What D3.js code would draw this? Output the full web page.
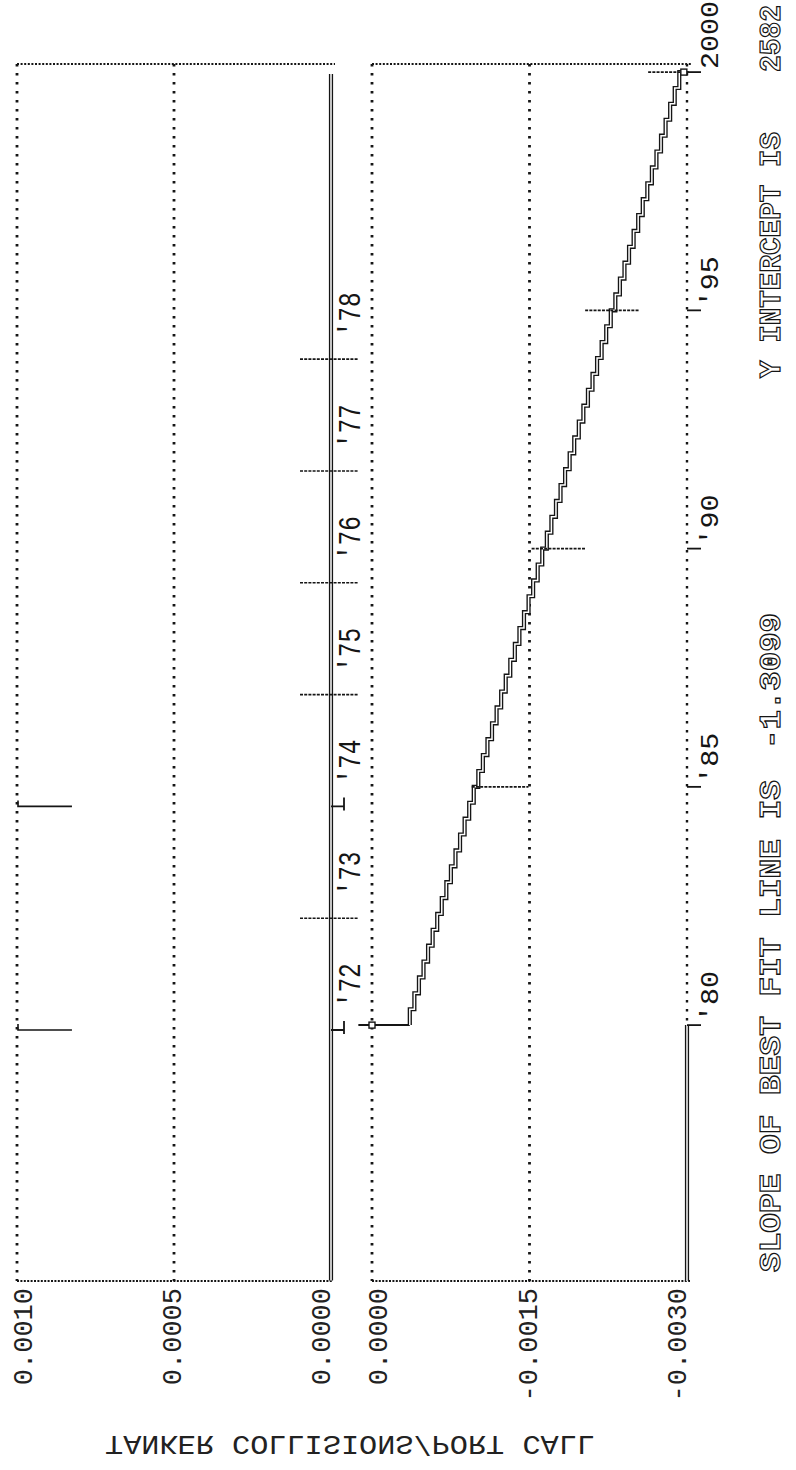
<!DOCTYPE html>
<html><head><meta charset="utf-8">
<script src="https://cdn.jsdelivr.net/npm/d3@7"></script>
<style>html,body{margin:0;padding:0;background:#fff;} svg{display:block;}</style>
</head><body>
<svg id="c" width="796" height="1470"></svg>
<script>
// ---------- data ----------
const topValueTicks = [0.0010, 0.0005, 0.0000];
const topValueLabels = ["0.0010", "0.0005", "0.0000"];
const bottomValueTicks = [0.0000, -0.0015, -0.0030];
const bottomValueLabels = ["0.0000", "-0.0015", "-0.0030"];
const topYears = [1972, 1973, 1974, 1975, 1976, 1977, 1978];
const topYearLabels = ["'72", "'73", "'74", "'75", "'76", "'77", "'78"];
const topFullTickYears = [1973, 1975, 1976, 1977, 1978];
const topMarkedYears = [1972, 1974];
const topSpikeYears = [1972, 1974];
const topSpikeLow = [0.000825, 0.000825];
const topSpikeHigh = [0.0010, 0.0010];
const topBaselineYears = [1969.76, 1980.55];
const topBaselineValues = [0, 0];
const bottomYears = [1980, 1985, 1990, 1995, 2000];
const bottomYearLabels = ["'80", "'85", "'90", "'95", "2000"];
const clipYears = [1974.63, 1980];
const clipValues = [-0.0030, -0.0030];
const fitLeadYears = [1980, 1980];
const fitLeadValues = [0.00013, -0.00036];
const fitYears = [1980, 2000];
const fitValues = [-0.00036, -0.00297];
const markYears = [1985, 1990, 1995, 2000];
const markFrom = [-0.00095, -0.00152, -0.00203, -0.00263];
const markTo = [-0.00149, -0.00203, -0.00255, -0.00303];
const slopeText = ["SLOPE OF BEST FIT LINE IS", "-1.3099"];
const interceptText = ["Y INTERCEPT IS", "2582"];
const axisTitle = "TANKER COLLISIONS/PORT CALL";

// ---------- layout ----------
const plotTop = 64, plotBottom = 1281;
const xT = d3.scaleLinear().domain([0.0010, 0]).range([17, 331]);
const xB = d3.scaleLinear().domain([0, -0.0030]).range([372, 687]);
const yT = d3.scaleLinear().domain([1969.755, 1980.64]).range([plotBottom, plotTop]);
const yB = d3.scaleLinear().domain([1974.63, 2000.17]).range([plotBottom, plotTop]);

const svg = d3.select("#c");
const ink = "#151515";
const font = "'Liberation Mono', 'DejaVu Sans Mono', monospace";

function dotted(g, x1, y1, x2, y2, w, dash) {
  g.append("line").attr("x1", x1).attr("y1", y1).attr("x2", x2).attr("y2", y2)
    .attr("stroke", ink).attr("stroke-width", w).attr("stroke-dasharray", dash);
}
function doubleLine(g, d) {
  g.append("path").attr("d", d).attr("fill", "none").attr("stroke", ink).attr("stroke-width", 4.2);
  g.append("path").attr("d", d).attr("fill", "none").attr("stroke", "#fff").attr("stroke-width", 1.5);
}
const line = d3.line();

// ---------- top panel ----------
const gT = svg.append("g");
topValueTicks.forEach(v => {
  if (v !== 0) dotted(gT, xT(v), plotTop, xT(v), plotBottom, 2.8, "2.6,6.4");
});
dotted(gT, xT(0.0010), plotTop, xT(0) + 4, plotTop, 2, "2,1.6");
dotted(gT, xT(0.0010), plotBottom, xT(0) + 1, plotBottom, 2, "2,1.4");
doubleLine(gT, line(topBaselineYears.map((yr, i) => [xT(topBaselineValues[i]), yT(yr)])));
topFullTickYears.forEach(yr => {
  dotted(gT, xT(0) - 31, yT(yr), xT(0) + 27, yT(yr), 1.6, "3,1.2");
});
topMarkedYears.forEach(yr => {
  gT.append("path")
    .attr("d", `M${xT(0)},${yT(yr)}H${xT(0) + 13}M${xT(0) + 13},${yT(yr) - 9}V${yT(yr) + 4}`)
    .attr("fill", "none").attr("stroke", ink).attr("stroke-width", 1.8);
});
topSpikeYears.forEach((yr, i) => {
  gT.append("path")
    .attr("d", `M${xT(topSpikeHigh[i]) + 1},${yT(yr) - 6}V${yT(yr)}H${xT(topSpikeLow[i])}`)
    .attr("fill", "none").attr("stroke", ink).attr("stroke-width", 1.6);
});
topYears.forEach((yr, i) => {
  const x = xT(0) + 20, y = yT(yr + 0.4);
  gT.append("text").attr("transform", `translate(${x},${y}) rotate(-90)`)
    .attr("text-anchor", "middle").attr("dominant-baseline", "central")
    .attr("font-family", font).attr("font-size", 31).attr("fill", ink)
    .attr("textLength", 44).attr("lengthAdjust", "spacingAndGlyphs")
    .text(topYearLabels[i]);
});

// ---------- bottom panel ----------
const gB = svg.append("g");
bottomValueTicks.forEach(v => {
  if (v !== -0.0030) dotted(gB, xB(v), plotTop, xB(v), plotBottom, 2.8, "2.6,6.4");
});
dotted(gB, xB(-0.0030), plotTop, xB(-0.0030), yB(1980), 2.4, "2.4,6.6");
dotted(gB, xB(0), plotTop, xB(-0.0030) + 5, plotTop, 2, "2,1.6");
dotted(gB, xB(0), plotBottom, xB(-0.0030) + 3, plotBottom, 2, "2,1.4");
doubleLine(gB, line(clipYears.map((yr, i) => [xB(clipValues[i]), yB(yr)])));
bottomYears.forEach(yr => {
  gB.append("line").attr("x1", xB(-0.0030)).attr("x2", xB(-0.0030) + 14)
    .attr("y1", yB(yr)).attr("y2", yB(yr)).attr("stroke", ink).attr("stroke-width", 1.8);
});
bottomYears.forEach((yr, i) => {
  const x = xB(-0.0030) + 24, y = yB(yr) - 3;
  gB.append("text").attr("transform", `translate(${x},${y}) rotate(-90)`)
    .attr("text-anchor", "start").attr("dominant-baseline", "central")
    .attr("font-family", font).attr("font-size", 25).attr("fill", ink)
    .attr("textLength", bottomYearLabels[i].length * 17).attr("lengthAdjust", "spacingAndGlyphs")
    .text(bottomYearLabels[i]);
});
gB.append("path").attr("d", line(fitLeadYears.map((yr, i) => [xB(fitLeadValues[i]), yB(yr)])))
  .attr("fill", "none").attr("stroke", ink).attr("stroke-width", 2);
(function () {
  const x0 = xB(fitValues[0]), y0 = yB(fitYears[0]);
  const x1 = xB(fitValues[1]), y1 = yB(fitYears[1]);
  const steps = 60;
  let d = `M${x0},${y0}`;
  for (let i = 1; i <= steps; i++) {
    d += `V${y0 + (y1 - y0) * i / steps}H${x0 + (x1 - x0) * i / steps}`;
  }
  doubleLine(gB, d);
})();
markYears.forEach((yr, i) => {
  dotted(gB, xB(markFrom[i]), yB(yr), xB(markTo[i]), yB(yr), 1.6, "3,1.2");
});
[[fitLeadYears[0], 0], [fitYears[1], fitValues[1]]].forEach(p => {
  gB.append("rect").attr("x", xB(p[1]) - 3).attr("y", yB(p[0]) - 3).attr("width", 6).attr("height", 6)
    .attr("fill", "#fff").attr("stroke", ink).attr("stroke-width", 1.4);
});

// ---------- value labels (plotter places them slightly inward of each tick) ----------
const gL = svg.append("g").attr("font-family", font).attr("fill", "#222");
function valueLabel(x, txt) {
  gL.append("text").attr("transform", `translate(${x},${plotBottom + 7}) rotate(-90)`)
    .attr("text-anchor", "end").attr("dominant-baseline", "central")
    .attr("font-size", 27).text(txt);
}
function inward(scale, v) {
  const r = scale.range(), c = (r[0] + r[1]) / 2 + 2;
  return c + (scale(v) - c) * 0.95;
}
topValueTicks.forEach((v, i) => valueLabel(inward(xT, v), topValueLabels[i]));
bottomValueTicks.forEach((v, i) => valueLabel(inward(xB, v), bottomValueLabels[i]));

// axis title (mirrored as in the original print); baseline at top, caps hang downward
svg.append("text").attr("transform", "translate(350,1436) scale(1,-1)")
  .attr("x", 0).attr("y", 0)
  .attr("text-anchor", "middle")
  .attr("font-family", font).attr("font-size", 27).attr("fill", "#222")
  .attr("textLength", 490).attr("lengthAdjust", "spacingAndGlyphs")
  .text(axisTitle);

// ---------- fit annotation ----------
const gN = svg.append("g").attr("font-family", font).attr("font-weight", "bold")
  .attr("fill", "#fff").attr("stroke", ink).attr("stroke-width", 1.2);
function note(y, txt, len) {
  gN.append("text").attr("transform", `translate(772,${y}) rotate(-90)`)
    .attr("text-anchor", "start").attr("dominant-baseline", "central")
    .attr("font-size", 29).attr("textLength", len).attr("lengthAdjust", "spacingAndGlyphs")
    .text(txt);
}
note(1272, slopeText[0], 492);
note(749, slopeText[1], 136);
note(378, interceptText[0], 246);
note(72, interceptText[1], 67);
</script>
</body></html>
